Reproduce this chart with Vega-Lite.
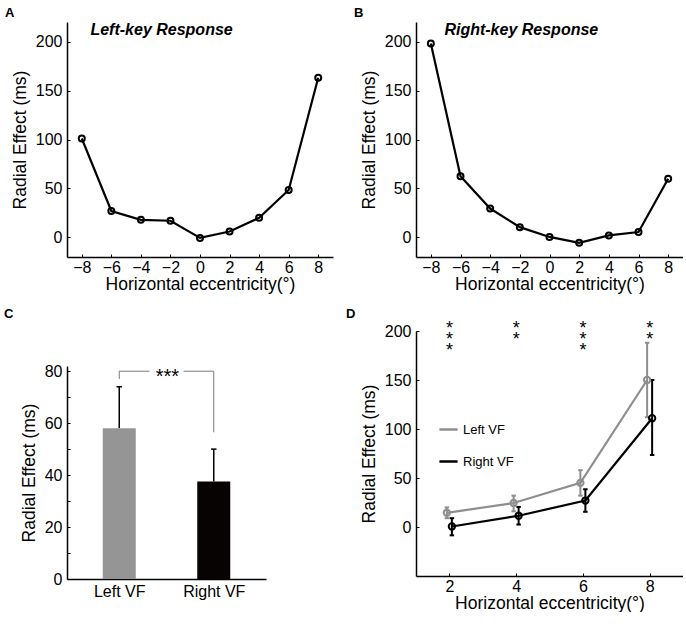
{
  "$schema": "https://vega.github.io/schema/vega-lite/v6.json",
  "background": "white",
  "padding": {"left": 4, "top": 6, "right": 0, "bottom": 0},
  "config": {
    "font": "Liberation Sans",
    "view": {"stroke": null},
    "axis": {
      "grid": false,
      "domainColor": "black",
      "domainWidth": 1.5,
      "tickColor": "black",
      "tickWidth": 1,
      "tickSize": -3,
      "labelFontSize": 16,
      "labelColor": "black",
      "labelPadding": 8,
      "titleFontSize": 17.5,
      "titleFontWeight": "normal",
      "titleColor": "black"
    },
    "axisY": {"titlePadding": 6},
    "axisX": {"titlePadding": 0, "labelFlush": false, "labelPadding": 5},
    "title": {"fontSize": 13, "fontWeight": "bold", "anchor": "start", "frame": "group", "color": "black", "offset": 2, "dx": -62}
  },
  "datasets": {
    "leftkey": [
      {"ecc": -8, "effect": 101},
      {"ecc": -6, "effect": 27},
      {"ecc": -4, "effect": 18},
      {"ecc": -2, "effect": 17},
      {"ecc": 0, "effect": -0.5},
      {"ecc": 2, "effect": 6},
      {"ecc": 4, "effect": 20},
      {"ecc": 6, "effect": 48.5},
      {"ecc": 8, "effect": 163}
    ],
    "rightkey": [
      {"ecc": -8, "effect": 198},
      {"ecc": -6, "effect": 62.5},
      {"ecc": -4, "effect": 29.5},
      {"ecc": -2, "effect": 10.5},
      {"ecc": 0, "effect": 0.5},
      {"ecc": 2, "effect": -5.5},
      {"ecc": 4, "effect": 2},
      {"ecc": 6, "effect": 5.5},
      {"ecc": 8, "effect": 60}
    ],
    "bars": [
      {"vf": "Left VF", "pos": 1, "effect": 58, "upper": 74},
      {"vf": "Right VF", "pos": 2, "effect": 37.5, "upper": 50}
    ],
    "bracket": [
      {"pos": 1, "pos2": 1, "effect": 77, "effect2": 80},
      {"pos": 1, "pos2": 1.32, "effect": 80, "effect2": 80},
      {"pos": 1.68, "pos2": 2, "effect": 80, "effect2": 80},
      {"pos": 2, "pos2": 2, "effect": 56.5, "effect2": 80}
    ],
    "byecc": [
      {"vf": "Left VF", "ecc": 2, "effect": 14.5, "lo": 9, "hi": 20},
      {"vf": "Left VF", "ecc": 4, "effect": 24.5, "lo": 16, "hi": 32},
      {"vf": "Left VF", "ecc": 6, "effect": 45, "lo": 32, "hi": 58},
      {"vf": "Left VF", "ecc": 8, "effect": 150, "lo": 112, "hi": 188},
      {"vf": "Right VF", "ecc": 2, "effect": 0.5, "lo": -8.5, "hi": 9},
      {"vf": "Right VF", "ecc": 4, "effect": 11.5, "lo": 2.5, "hi": 20.5},
      {"vf": "Right VF", "ecc": 6, "effect": 27, "lo": 15.5, "hi": 38.5},
      {"vf": "Right VF", "ecc": 8, "effect": 111, "lo": 73.5, "hi": 150}
    ],
    "stars": [
      {"ecc": 2, "effect": 207.5}, {"ecc": 2, "effect": 196.5}, {"ecc": 2, "effect": 185.5},
      {"ecc": 4, "effect": 207.5}, {"ecc": 4, "effect": 196},
      {"ecc": 6, "effect": 207.5}, {"ecc": 6, "effect": 196.5}, {"ecc": 6, "effect": 185.5},
      {"ecc": 8, "effect": 207.5}, {"ecc": 8, "effect": 196}
    ]
  },
  "hconcat": [
    {
      "vconcat": [
        {
          "title": "A",
          "width": 266,
          "height": 235,
          "data": {"name": "leftkey"},
          "encoding": {
            "x": {"field": "ecc", "type": "quantitative", "title": "Horizontal eccentricity(°)",
              "scale": {"domain": [-9, 9], "nice": false},
              "axis": {"values": [-8, -6, -4, -2, 0, 2, 4, 6, 8]}},
            "y": {"field": "effect", "type": "quantitative", "title": "Radial Effect (ms)",
              "scale": {"domain": [-20, 220], "nice": false},
              "axis": {"values": [0, 50, 100, 150, 200]}}
          },
          "layer": [
            {"mark": {"type": "line", "color": "black", "strokeWidth": 2.2}},
            {"mark": {"type": "point", "shape": "circle", "filled": false, "size": 36, "strokeWidth": 2, "color": "black", "opacity": 1}},
            {
              "data": {"values": [{"ecc": -2.6, "effect": 212, "label": "Left-key Response"}]},
              "mark": {"type": "text", "fontSize": 16, "fontWeight": "bold", "fontStyle": "italic", "baseline": "middle"},
              "encoding": {"text": {"field": "label"}}
            }
          ]
        },
        {
          "title": {"text": "C", "offset": 42, "dx": -63},
          "width": 199,
          "height": 213,
          "encoding": {
            "x": {"field": "pos", "type": "quantitative", "title": null,
              "scale": {"domain": [0.5, 2.5], "nice": false, "zero": false},
              "axis": {"values": [1, 2], "ticks": false, "labelPadding": 4,
                "labelExpr": "datum.value == 1 ? 'Left VF' : 'Right VF'"}},
            "y": {"field": "effect", "type": "quantitative", "title": "Radial Effect (ms)",
              "scale": {"domain": [0, 82], "nice": false},
              "axis": {"values": [0, 10, 20, 30, 40, 50, 60, 70, 80],
                "labelExpr": "datum.value % 20 === 0 ? datum.label : ''"}}
          },
          "layer": [
            {
              "data": {"name": "bars"},
              "mark": {"type": "rule", "color": "black", "strokeWidth": 1.5},
              "encoding": {"y2": {"field": "upper"}}
            },
            {
              "data": {"name": "bars"},
              "mark": {"type": "point", "shape": "M-1,0L1,0", "filled": false, "size": 30, "strokeWidth": 1.5, "color": "black", "opacity": 1},
              "encoding": {"y": {"field": "upper", "type": "quantitative"}}
            },
            {
              "data": {"name": "bars"},
              "mark": {"type": "bar", "width": 33},
              "encoding": {
                "color": {"field": "vf", "type": "nominal", "legend": null,
                  "scale": {"domain": ["Left VF", "Right VF"], "range": ["#959595", "#070303"]}}
              }
            },
            {
              "data": {"name": "bracket"},
              "mark": {"type": "rule", "color": "#7a7a7a", "strokeWidth": 1},
              "encoding": {"x2": {"field": "pos2"}, "y2": {"field": "effect2"}}
            },
            {
              "data": {"values": [{"pos": 1.51, "effect": 80, "sig": "***"}]},
              "mark": {"type": "text", "fontSize": 20, "baseline": "alphabetic", "dy": 11.5, "color": "black"},
              "encoding": {"text": {"field": "sig"}}
            }
          ]
        }
      ],
      "spacing": 15,
      "resolve": {"scale": {"color": "independent"}, "legend": {"color": "independent"}}
    },
    {
      "vconcat": [
        {
          "title": "B",
          "width": 267,
          "height": 235,
          "data": {"name": "rightkey"},
          "encoding": {
            "x": {"field": "ecc", "type": "quantitative", "title": "Horizontal eccentricity(°)",
              "scale": {"domain": [-9, 9], "nice": false},
              "axis": {"values": [-8, -6, -4, -2, 0, 2, 4, 6, 8]}},
            "y": {"field": "effect", "type": "quantitative", "title": "Radial Effect (ms)",
              "scale": {"domain": [-20, 220], "nice": false},
              "axis": {"values": [0, 50, 100, 150, 200]}}
          },
          "layer": [
            {"mark": {"type": "line", "color": "black", "strokeWidth": 2.2}},
            {"mark": {"type": "point", "shape": "circle", "filled": false, "size": 36, "strokeWidth": 2, "color": "black", "opacity": 1}},
            {
              "data": {"values": [{"ecc": -1.9, "effect": 212, "label": "Right-key Response"}]},
              "mark": {"type": "text", "fontSize": 16, "fontWeight": "bold", "fontStyle": "italic", "baseline": "middle"},
              "encoding": {"text": {"field": "label"}}
            }
          ]
        },
        {
          "title": {"text": "D", "offset": -1, "dx": -70},
          "width": 267,
          "height": 245,
          "encoding": {
            "x": {"field": "ecc", "type": "quantitative", "title": "Horizontal eccentricity(°)",
              "scale": {"domain": [1, 9], "nice": false},
              "axis": {"values": [2, 4, 6, 8]}},
            "y": {"field": "effect", "type": "quantitative", "title": "Radial Effect (ms)",
              "scale": {"domain": [-50, 200], "nice": false},
              "axis": {"values": [0, 50, 100, 150, 200]}}
          },
          "layer": [
            {
              "data": {"name": "byecc"},
              "mark": {"type": "line", "strokeWidth": 2.2, "xOffset": {"expr": "datum.vf == 'Left VF' ? -2.5 : 2.5"}},
              "encoding": {
                "color": {"field": "vf", "type": "nominal",
                  "scale": {"domain": ["Left VF", "Right VF"], "range": ["#8e8e8e", "#000000"]},
                  "legend": {"orient": "none", "legendX": 22, "legendY": 88, "title": null,
                    "symbolType": "stroke", "symbolSize": 330, "symbolStrokeWidth": 2.5,
                    "labelFontSize": 13, "labelColor": "black", "labelOffset": 4, "rowPadding": 14, "padding": 0}}
              }
            },
            {
              "data": {"name": "byecc"},
              "mark": {"type": "rule", "strokeWidth": 2, "xOffset": {"expr": "datum.vf == 'Left VF' ? -2.5 : 2.5"}},
              "encoding": {
                "y": {"field": "lo", "type": "quantitative"},
                "y2": {"field": "hi"},
                "color": {"field": "vf", "type": "nominal"}
              }
            },
            {
              "data": {"name": "byecc"},
              "transform": [{"fold": ["lo", "hi"], "as": ["end", "bound"]}],
              "mark": {"type": "point", "shape": "M-1,0L1,0", "filled": false, "size": 20, "strokeWidth": 2, "opacity": 1, "xOffset": {"expr": "datum.vf == 'Left VF' ? -2.5 : 2.5"}},
              "encoding": {
                "y": {"field": "bound", "type": "quantitative"},
                "color": {"field": "vf", "type": "nominal"}
              }
            },
            {
              "data": {"name": "byecc"},
              "mark": {"type": "point", "shape": "circle", "filled": false, "size": 40, "strokeWidth": 2, "opacity": 1, "xOffset": {"expr": "datum.vf == 'Left VF' ? -2.5 : 2.5"}},
              "encoding": {"color": {"field": "vf", "type": "nominal"}}
            },
            {
              "data": {"name": "stars"},
              "mark": {"type": "text", "text": "*", "fontSize": 18, "baseline": "alphabetic", "dy": 10.5, "color": "black"}
            }
          ]
        }
      ],
      "spacing": 15,
      "resolve": {"scale": {"color": "independent"}, "legend": {"color": "independent"}}
    }
  ],
  "spacing": 13,
  "resolve": {"scale": {"color": "independent"}, "legend": {"color": "independent"}}
}
